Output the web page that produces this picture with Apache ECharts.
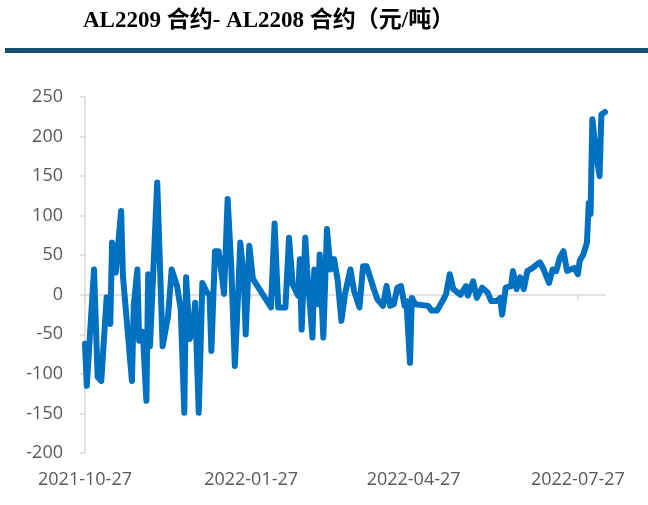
<!DOCTYPE html>
<html>
<head>
<meta charset="utf-8">
<script src="https://cdn.jsdelivr.net/npm/echarts@6/dist/echarts.min.js"></script>
<style>
html,body{margin:0;padding:0;background:#fff;}
#main{width:648px;height:505px;}
</style>
</head>
<body>
<div id="main"></div>
<script>
// ---- data ----
const titleText = 'AL2209 合约- AL2208 合约（元/吨）';
const dates = [
 '2021-10-27','2021-10-28','2021-11-01','2021-11-03','2021-11-05','2021-11-08','2021-11-10','2021-11-11','2021-11-13','2021-11-16',
 '2021-11-17','2021-11-22','2021-11-23','2021-11-25','2021-11-26','2021-11-28','2021-11-30','2021-12-01','2021-12-02','2021-12-06',
 '2021-12-09','2021-12-12','2021-12-14','2021-12-17','2021-12-19','2021-12-21','2021-12-22','2021-12-24','2021-12-26','2021-12-27',
 '2021-12-29','2021-12-31','2022-01-02','2022-01-04','2022-01-05','2022-01-07','2022-01-09','2022-01-11','2022-01-12','2022-01-14',
 '2022-01-16','2022-01-18','2022-01-20','2022-01-21','2022-01-23','2022-01-24','2022-01-26','2022-01-28','2022-02-07','2022-02-09',
 '2022-02-11','2022-02-15','2022-02-17','2022-02-19','2022-02-22','2022-02-23','2022-02-24','2022-02-26','2022-02-27','2022-03-02',
 '2022-03-03','2022-03-05','2022-03-06','2022-03-08','2022-03-10','2022-03-12','2022-03-14','2022-03-16','2022-03-18','2022-03-20',
 '2022-03-23','2022-03-25','2022-03-28','2022-03-30','2022-04-01','2022-04-05','2022-04-07','2022-04-10','2022-04-12','2022-04-14',
 '2022-04-16','2022-04-18','2022-04-20','2022-04-22','2022-04-23','2022-04-25','2022-04-26','2022-04-28','2022-04-29','2022-05-05',
 '2022-05-07','2022-05-10','2022-05-13','2022-05-15','2022-05-17','2022-05-19','2022-05-23','2022-05-26','2022-05-27','2022-05-30',
 '2022-06-01','2022-06-04','2022-06-07','2022-06-09','2022-06-12','2022-06-14','2022-06-15','2022-06-17','2022-06-20','2022-06-21',
 '2022-06-23','2022-06-25','2022-06-27','2022-06-29','2022-07-02','2022-07-04','2022-07-06','2022-07-08','2022-07-11','2022-07-13',
 '2022-07-15','2022-07-17','2022-07-19','2022-07-21','2022-07-22','2022-07-25','2022-07-27','2022-07-28','2022-07-30','2022-08-01',
 '2022-08-02','2022-08-03','2022-08-04','2022-08-06','2022-08-08','2022-08-09','2022-08-11'
];
const spread = [
 -62,-115,32,-104,-109,-3,-37,66,28,106,
 24,-109,-14,32,-58,-47,-134,26,-65,142,
 -65,-27,32,11,-18,-149,22,-56,-39,-10,
 -149,15,5,-1,-71,55,55,20,1,121,
 36,-90,11,66,20,-50,62,20,-16,90,
 -16,-16,72,13,-1,45,-44,72,32,-54,
 32,-12,51,-54,83,32,45,17,-33,1,
 32,5,-16,36,36,7,-6,-14,11,-14,
 -12,9,11,-14,-8,-86,-4,-12,-14,-14,
 -20,-20,-8,1,26,7,0,11,-1,17,
 -4,9,3,-8,-8,-4,-25,9,11,30,
 7,22,7,30,34,38,41,32,15,32,
 30,47,55,30,28,34,26,43,51,66,
 116,102,222,180,150,228,231
];
const xMin = '2021-10-27';
const xMax = '2022-08-11';
const xTickLabels = ['2021-10-27','2022-01-27','2022-04-27','2022-07-27'];
const yMin = -200, yMax = 250, yStep = 50;

// ---- helpers ----
function ts(s){const p=s.split('-').map(Number);return new Date(p[0],p[1]-1,p[2]).getTime();}
function fmt(v){const d=new Date(v);const m=d.getMonth()+1,dd=d.getDate();return d.getFullYear()+'-'+(m<10?'0':'')+m+'-'+(dd<10?'0':'')+dd;}

const seriesData = dates.map((d,i)=>[ts(d), spread[i]]);
const labelTs = xTickLabels.map(ts);

const chart = echarts.init(document.getElementById('main'), null, {renderer:'canvas'});
const axisFont = {fontFamily:'Open Sans', fontSize:18, color:'#595959'};
chart.setOption({
  animation:false,
  backgroundColor:'#fff',
  grid:{left:85, right:43, top:97, bottom:52, containLabel:false},
  xAxis:[
    {type:'value', min:ts(xMin), max:ts(xMax), position:'bottom', scale:true,
     axisLine:{show:true, onZero:true, lineStyle:{color:'#D9D9D9', width:1.5}},
     axisTick:{show:true, length:5, customValues:labelTs, lineStyle:{color:'#D9D9D9', width:1.5}},
     axisLabel:{show:false}, splitLine:{show:false}},
    {type:'value', min:ts(xMin), max:ts(xMax), position:'bottom', scale:true,
     axisLine:{show:false, onZero:false}, axisTick:{show:false}, splitLine:{show:false},
     axisLabel:Object.assign({show:true, margin:18, customValues:labelTs,
       formatter:function(v){return fmt(v);}}, axisFont)}
  ],
  yAxis:{type:'value', min:yMin, max:yMax, interval:yStep,
    axisLine:{show:true, lineStyle:{color:'#D9D9D9', width:1.5}},
    axisTick:{show:true, length:5, lineStyle:{color:'#D9D9D9', width:1.5}},
    splitLine:{show:false},
    axisLabel:Object.assign({margin:22}, axisFont)},
  series:[{type:'line', xAxisIndex:0, data:seriesData, showSymbol:false, symbol:'none',
    lineStyle:{color:'#0070C0', width:6, cap:'round', join:'round'}}],
  graphic:[
    {type:'text', left:83, top:10, style:{text:titleText, font:"bold 23px 'Liberation Serif', 'Noto Sans CJK SC', serif", fill:'#000'}},
    {type:'rect', shape:{x:5, y:48, width:643, height:5}, style:{fill:'#17506F'}}
  ]
});
</script>
</body>
</html>
